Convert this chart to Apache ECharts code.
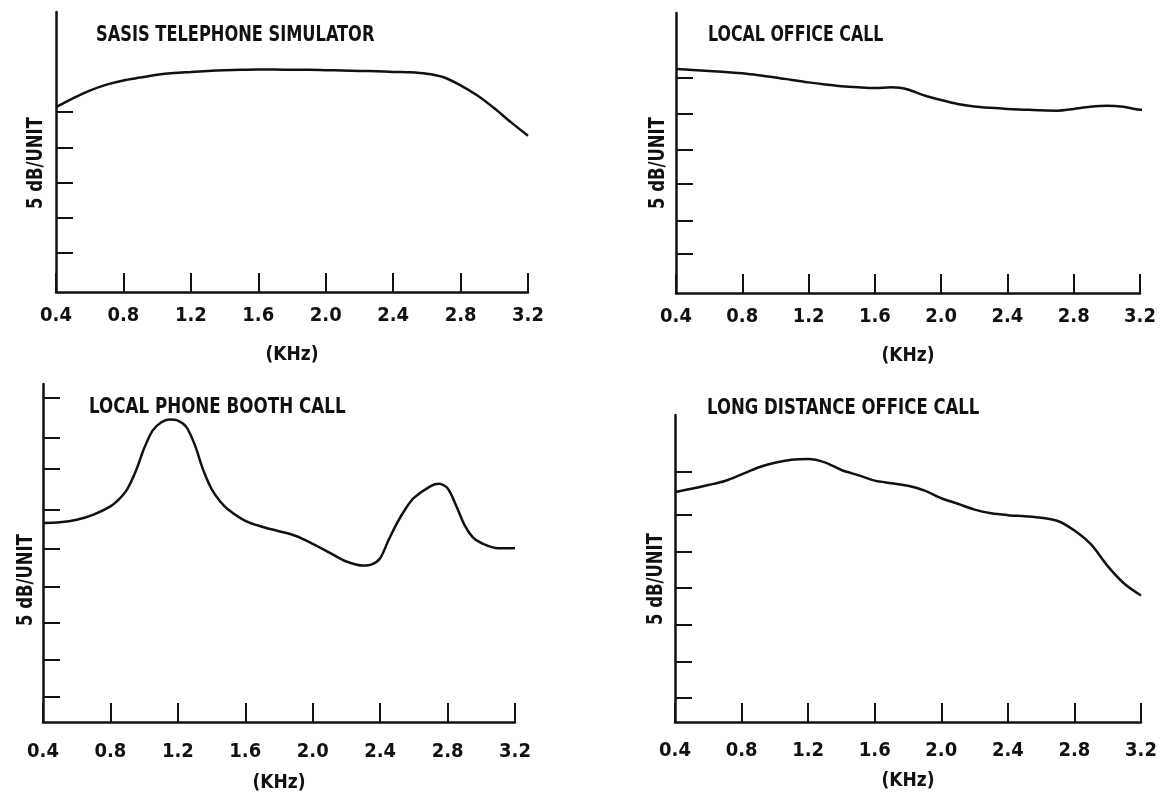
<!DOCTYPE html>
<html><head><meta charset="utf-8">
<script src="https://cdn.jsdelivr.net/npm/echarts@6/dist/echarts.min.js"></script>
<style>html,body{margin:0;padding:0;background:#fff}#c{width:1167px;height:794px}</style>
</head><body><div id="c"></div>
<script>
// ---- data (x in KHz, y in 5 dB units) ----
const titles = ['SASIS TELEPHONE SIMULATOR', 'LOCAL OFFICE CALL', 'LOCAL PHONE BOOTH CALL', 'LONG DISTANCE OFFICE CALL'];
const yName = '5 dB/UNIT';
const xName = '(KHz)';

const freq1 = [0.4,0.5,0.6,0.7,0.8,0.9,1.0,1.1,1.2,1.3,1.4,1.5,1.6,1.7,1.8,1.9,2.0,2.1,2.2,2.3,2.4,2.5,2.6,2.7,2.8,2.9,3.0,3.1,3.2];
const sasis = [5.24,5.49,5.71,5.88,6.00,6.08,6.16,6.21,6.24,6.27,6.29,6.30,6.31,6.31,6.30,6.30,6.29,6.28,6.27,6.26,6.24,6.23,6.19,6.09,5.86,5.57,5.21,4.81,4.43];

const freq2 = [0.4,0.5,0.6,0.7,0.8,0.9,1.0,1.1,1.2,1.3,1.4,1.5,1.6,1.7,1.75,1.8,1.9,2.0,2.1,2.2,2.3,2.4,2.5,2.6,2.7,2.8,2.9,3.0,3.1,3.2,3.25];
const localOffice = [6.33,6.30,6.27,6.24,6.21,6.15,6.09,6.02,5.95,5.89,5.84,5.81,5.79,5.81,5.80,5.75,5.58,5.45,5.34,5.27,5.23,5.20,5.18,5.16,5.15,5.20,5.26,5.29,5.26,5.18,5.18];

const freq3 = [0.4,0.5,0.6,0.7,0.8,0.85,0.9,0.95,1.0,1.05,1.1,1.15,1.2,1.25,1.3,1.35,1.4,1.45,1.5,1.6,1.7,1.8,1.9,2.0,2.1,2.2,2.3,2.35,2.4,2.45,2.5,2.55,2.6,2.7,2.75,2.8,2.85,2.9,2.95,3.0,3.1,3.2];
const booth = [5.38,5.40,5.47,5.61,5.83,6.02,6.30,6.78,7.40,7.88,8.10,8.18,8.15,7.98,7.50,6.82,6.30,5.97,5.74,5.44,5.28,5.16,5.03,4.82,4.58,4.34,4.23,4.26,4.43,4.92,5.38,5.76,6.06,6.38,6.44,6.32,5.86,5.33,4.99,4.84,4.70,4.70];

const freq4 = [0.4,0.5,0.6,0.7,0.8,0.9,1.0,1.1,1.2,1.3,1.4,1.5,1.6,1.7,1.8,1.9,2.0,2.1,2.2,2.3,2.4,2.5,2.6,2.7,2.8,2.9,3.0,3.1,3.2];
const longDist = [6.27,6.36,6.46,6.57,6.75,6.94,7.07,7.15,7.17,7.08,6.87,6.73,6.58,6.51,6.44,6.31,6.10,5.95,5.79,5.69,5.64,5.61,5.57,5.48,5.22,4.84,4.25,3.77,3.45];

const yTicks1 = [1.1,2.1,3.1,4.1,5.1];
const yTicks2 = [1.1,2.05,3.1,4.05,5.05,6.07];
const yTicks3 = [0.68,1.68,2.68,3.65,4.68,5.73,6.84,7.68,8.78];
const yTicks4 = [0.65,1.63,2.64,3.65,4.63,5.64,6.81];
const yMax = [7.94, 7.91, 9.14, 8.37];

// ---- layout ----
const FONT = "'DejaVu Sans Condensed','Liberation Sans Narrow',sans-serif";
const INK = '#111';
const grids = [
  {left: 56, top: 12, width: 472, height: 280},
  {left: 676, top: 13, width: 464, height: 280},
  {left: 43, top: 384, width: 472, height: 338},
  {left: 675, top: 415, width: 466, height: 307}
];
const labelMargin = [14, 14, 20, 19];
const nameGap = [54, 54, 52, 50];
const titlePos = [[96, 35], [708, 35], [89, 407], [707, 408]];
const titleScale = [0.82, 0.8, 0.845, 0.835];
const yNamePos = [[37, 163], [659, 163], [27, 580], [657, 579]];

const series = [[freq1, sasis], [freq2, localOffice], [freq3, booth], [freq4, longDist]];
const yTicks = [yTicks1, yTicks2, yTicks3, yTicks4];

const option = {
  backgroundColor: '#fff',
  animation: false,
  grid: grids.map(g => Object.assign({containLabel: false}, g)),
  xAxis: grids.map((g, i) => ({
    type: 'value', gridIndex: i, min: 0.4, max: 3.2, interval: 0.4,
    axisLine: {show: true, lineStyle: {color: INK, width: 2.5}},
    axisTick: {show: true, inside: true, length: 19, lineStyle: {color: INK, width: 2}},
    axisLabel: {show: true, margin: labelMargin[i], color: INK, fontFamily: FONT, fontWeight: 'bold', fontSize: 20,
      formatter: v => v.toFixed(1), showMinLabel: true, showMaxLabel: true},
    splitLine: {show: false},
    name: xName, nameLocation: 'middle', nameGap: nameGap[i],
    nameTextStyle: {color: INK, fontFamily: FONT, fontWeight: 'bold', fontSize: 19}
  })),
  yAxis: grids.map((g, i) => ({
    type: 'value', gridIndex: i, min: 0, max: yMax[i],
    axisLine: {show: true, onZero: false, lineStyle: {color: INK, width: 2.5}},
    axisTick: {show: true, inside: true, length: 17, customValues: yTicks[i], lineStyle: {color: INK, width: 2}},
    axisLabel: {show: false},
    splitLine: {show: false}
  })),
  series: series.map((s, i) => ({
    type: 'line', xAxisIndex: i, yAxisIndex: i, smooth: 0.3, symbol: 'none', clip: false,
    lineStyle: {color: INK, width: 2.5},
    data: s[0].map((x, k) => [x, s[1][k]])
  })),
  graphic: titles.map((t, i) => ({
    type: 'text', x: titlePos[i][0], y: titlePos[i][1], scaleX: titleScale[i],
    style: {text: t, fill: INK, fontFamily: FONT, fontWeight: 'bold', fontSize: 22, verticalAlign: 'middle', align: 'left'}
  })).concat(yNamePos.map(p => ({
    type: 'text', x: p[0], y: p[1], rotation: Math.PI / 2, scaleX: 0.87,
    style: {text: yName, fill: INK, fontFamily: FONT, fontWeight: 'bold', fontSize: 21, verticalAlign: 'middle', align: 'center'}
  })))
};

const chart = echarts.init(document.getElementById('c'), null, {renderer: 'canvas'});
chart.setOption(option);
</script>
</body></html>
